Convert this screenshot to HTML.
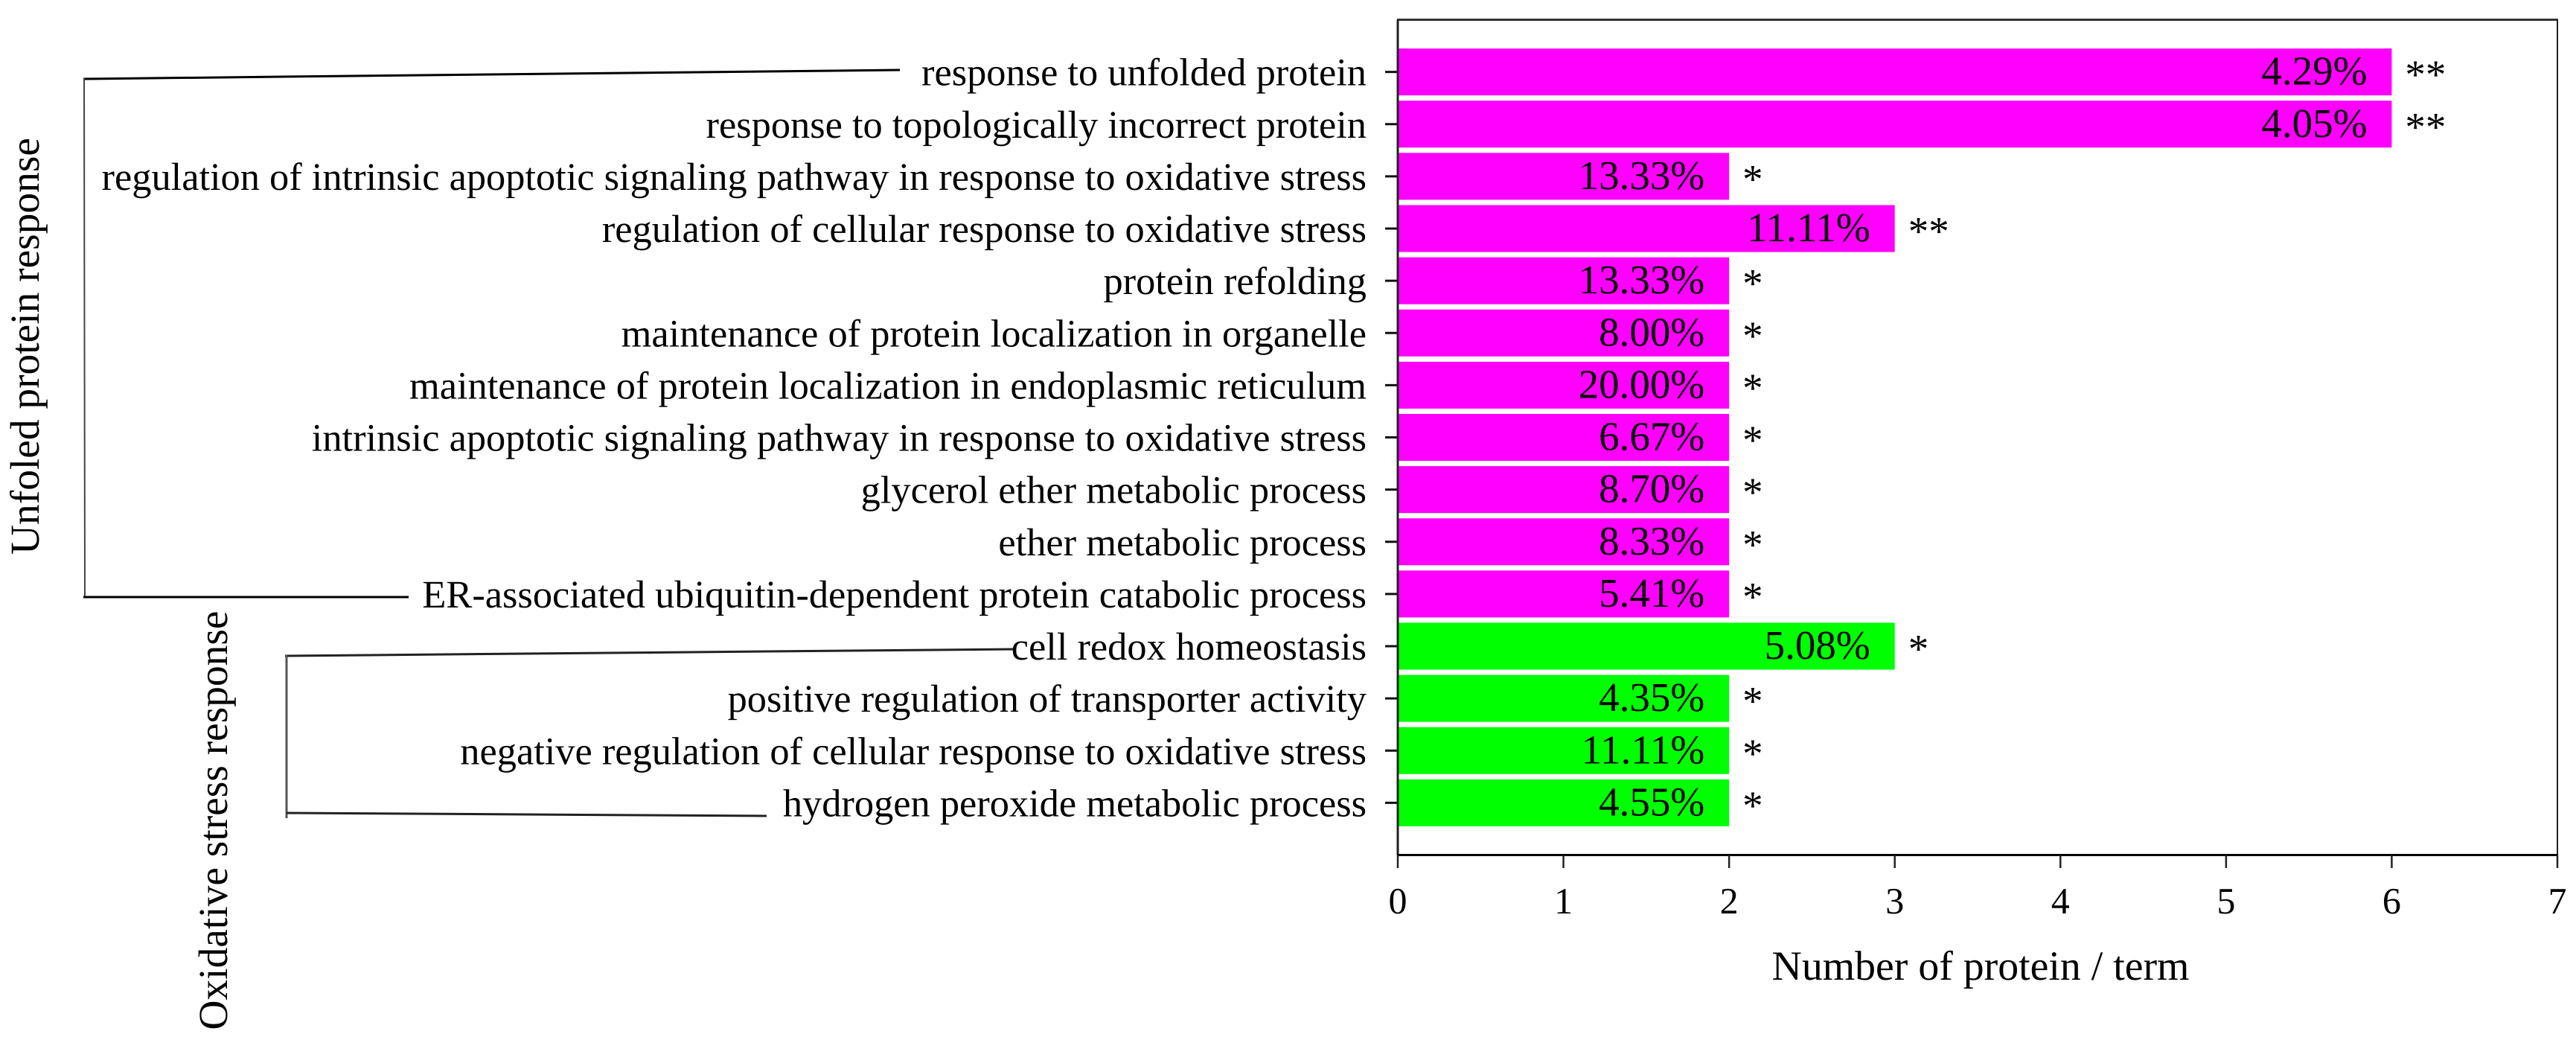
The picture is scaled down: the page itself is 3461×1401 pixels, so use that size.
<!DOCTYPE html>
<html lang="en">
<head>
<meta charset="utf-8">
<title>Protein term enrichment chart</title>
<style>
  html, body { margin: 0; padding: 0; background: #fff; }
  svg { display: block; text-rendering: geometricPrecision; font-family: "Liberation Serif", serif; fill: #000; }
</style>
</head>
<body>
<svg id="chart" xmlns="http://www.w3.org/2000/svg" width="3461" height="1401" viewBox="0 0 3461 1401">
  <rect x="0" y="0" width="3461" height="1401" fill="#fff"/>

  <g stroke="#000" fill="none">
    <line x1="112" y1="106" x2="1209" y2="94" stroke-width="3"/>
    <line x1="113" y1="105" x2="114" y2="803" stroke-width="2" stroke="#444"/>
    <line x1="112" y1="802" x2="549" y2="802" stroke-width="3"/>
  </g>
  <g stroke="#222" fill="none">
    <line x1="383" y1="881" x2="1362" y2="872" stroke-width="3"/>
    <line x1="385" y1="880" x2="385" y2="1099" stroke-width="3" stroke="#555"/>
    <line x1="385" y1="1092" x2="1030" y2="1096" stroke-width="3"/>
  </g>

  <text transform="translate(52 465) rotate(-90)" text-anchor="middle" font-size="55.4">Unfoled protein response</text>
  <text transform="translate(305 1102) rotate(-90)" text-anchor="middle" font-size="55.4">Oxidative stress response</text>

  <text x="2661" y="1316" text-anchor="middle" font-size="55.8">Number of protein / term</text>
</svg>
<script>
const categories = [
  "response to unfolded protein",
  "response to topologically incorrect protein",
  "regulation of intrinsic apoptotic signaling pathway in response to oxidative stress",
  "regulation of cellular response to oxidative stress",
  "protein refolding",
  "maintenance of protein localization in organelle",
  "maintenance of protein localization in endoplasmic reticulum",
  "intrinsic apoptotic signaling pathway in response to oxidative stress",
  "glycerol ether metabolic process",
  "ether metabolic process",
  "ER-associated ubiquitin-dependent protein catabolic process",
  "cell redox homeostasis",
  "positive regulation of transporter activity",
  "negative regulation of cellular response to oxidative stress",
  "hydrogen peroxide metabolic process"
];
const proteinCounts = [6, 6, 2, 3, 2, 2, 2, 2, 2, 2, 2, 3, 2, 2, 2];
const percentLabels = ["4.29%", "4.05%", "13.33%", "11.11%", "13.33%", "8.00%", "20.00%", "6.67%", "8.70%", "8.33%", "5.41%", "5.08%", "4.35%", "11.11%", "4.55%"];
const significance = ["**", "**", "*", "**", "*", "*", "*", "*", "*", "*", "*", "*", "*", "*", "*"];
const termGroups = ["unfolded", "unfolded", "unfolded", "unfolded", "unfolded", "unfolded", "unfolded", "unfolded", "unfolded", "unfolded", "unfolded", "oxidative", "oxidative", "oxidative", "oxidative"];
const xTickValues = [0, 1, 2, 3, 4, 5, 6, 7];

const NS = "http://www.w3.org/2000/svg";
const svg = document.getElementById("chart");
const plot = { left: 1878, right: 3436, top: 26.5, bottom: 1148.5 };
const xMax = 7;
const rowCount = categories.length + 1;
const groupColor = { unfolded: "#ff00ff", oxidative: "#00ff00" };

function xScale(v) { return plot.left + (v / xMax) * (plot.right - plot.left); }
function yScale(i) { return plot.top + ((i + 1) / rowCount) * (plot.bottom - plot.top); }
function make(tag, attrs, text) {
  const el = document.createElementNS(NS, tag);
  for (const k in attrs) el.setAttribute(k, attrs[k]);
  if (text !== undefined) el.textContent = text;
  return el;
}

const barHeight = 63;

categories.forEach(function (name, i) {
  const cy = yScale(i);
  const bar = make("rect", { x: plot.left, y: cy - barHeight / 2, width: xScale(proteinCounts[i]) - plot.left, height: barHeight, fill: groupColor[termGroups[i]] });
  
  
  svg.appendChild(bar);

  const tick = make("line", { x1: plot.left - 17, x2: plot.left, y1: cy, y2: cy, stroke: "#111", "stroke-width": 3 });
  
  
  svg.appendChild(tick);

  const label = make("text", { x: 1836, y: cy + 18, "text-anchor": "end", "font-size": 52.4 }, name);
  
  
  svg.appendChild(label);

  const pct = make("text", { x: xScale(proteinCounts[i]) - 33, y: cy + 17, "text-anchor": "end", "font-size": 55 }, percentLabels[i]);
  
  
  svg.appendChild(pct);

  const star = make("text", { x: xScale(proteinCounts[i]) + 18, y: cy + 22, "text-anchor": "start", "font-size": 55 }, significance[i]);
  
  
  svg.appendChild(star);
});

const frameTop = make("line", { x1: plot.left - 1, x2: plot.right + 1, y1: plot.top, y2: plot.top, stroke: "#333", "stroke-width": 3 });


svg.appendChild(frameTop);

const frameRight = make("line", { x1: plot.right, x2: plot.right, y1: plot.top, y2: plot.bottom, stroke: "#222", "stroke-width": 2 });


svg.appendChild(frameRight);

const yAxis = make("line", { x1: plot.left, x2: plot.left, y1: plot.top, y2: plot.bottom, stroke: "#222", "stroke-width": 3 });


svg.appendChild(yAxis);

const xAxis = make("line", { x1: plot.left - 1, x2: plot.right + 1, y1: plot.bottom, y2: plot.bottom, stroke: "#000", "stroke-width": 3 });


svg.appendChild(xAxis);

xTickValues.forEach(function (v) {
  const x = xScale(v);
  const tick = make("line", { x1: x, x2: x, y1: plot.bottom, y2: 1166, stroke: "#222", "stroke-width": 2.5 });
  
  
  svg.appendChild(tick);

  const label = make("text", { x: x, y: 1227, "text-anchor": "middle", "font-size": 50 }, String(v));
  
  
  svg.appendChild(label);
});
</script>
</body>
</html>
